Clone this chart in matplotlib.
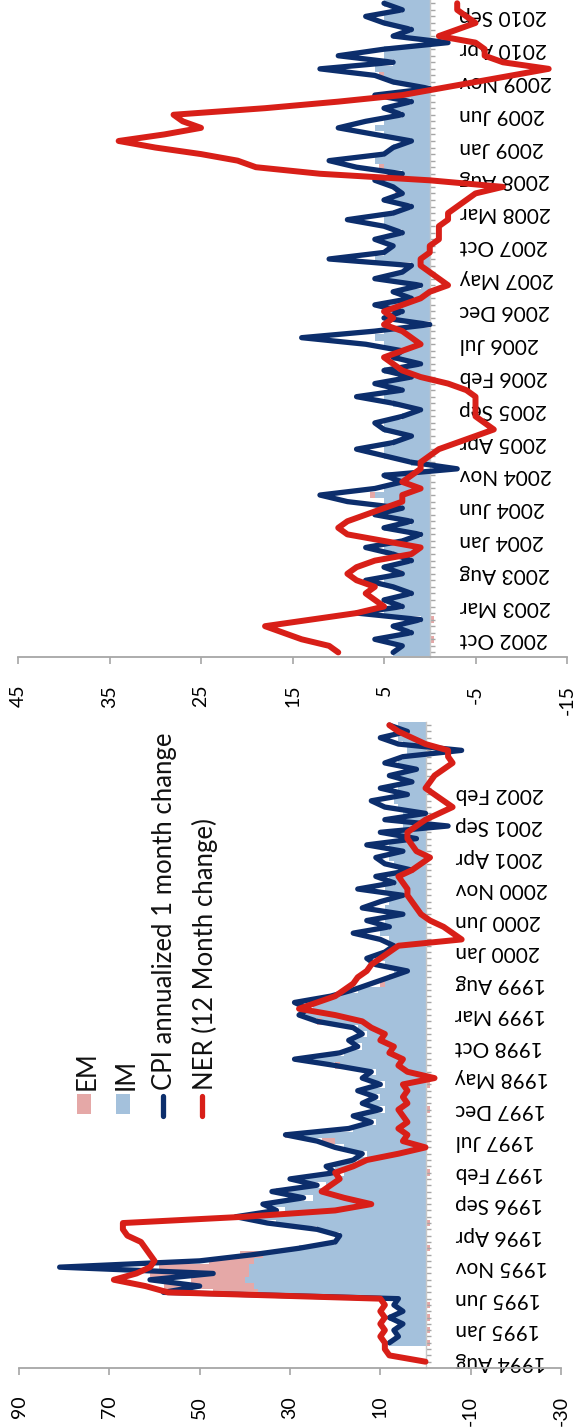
import numpy as np
import matplotlib.pyplot as plt
from matplotlib.patches import Rectangle
from matplotlib.lines import Line2D

plt.rcParams['font.family'] = ['Lato', 'DejaVu Sans']

# colours
im_color = '#a4c1dc'
em_color = '#e5a8a7'
cpi_color = '#0c2e6c'
ner_color = '#d81f18'
axis_color = '#a6a6a6'

month_abbr = ['Jan', 'Feb', 'Mar', 'Apr', 'May', 'Jun',
              'Jul', 'Aug', 'Sep', 'Oct', 'Nov', 'Dec']

# ---- panel 1: 1994 Aug .. 2003 Jan (monthly) ----
start_1 = (1994, 8)
cpi_1 = [np.nan, np.nan, np.nan, 8, 6, 7, 5, 8, 5, 7,
         6, 58, 50, 61, 47, 81, 50, 38, 28, 20,
         19, 24, 35, 42, 33, 36, 27, 34, 24, 30,
         20, 22, 16, 14, 20, 24, 31, 17, 12, 16,
         10, 14, 11, 15, 10, 14, 12, 20, 29, 19,
         15, 17, 14, 16, 24, 28, 26, 29, 21, 16,
         12, 8, 4, 11, 13, 9, 7, 10, 16, 8,
         13, 5, 14, 10, 5, 15, 7, 11, 3, 9,
         11, 5, 13, 2, 10, -5, 9, 0, 9, 12,
         4, 10, 3, 8, 2, 9, 5, -8, 6, 10,
         4, 8]
ner_1 = [0, 8, 9, 9, 10, 9, 10, 9, 10, 9,
         10, 57, 62, 69, 64, 61, 60, 61, 62, 63,
         66, 67, 67, 40, 20, 12, 18, 23, 21, 19,
         20, 16, 13, 6, 0, 5, 4, 6, 4, 5,
         6, 4, 5, 4, 5, -2, 4, 6, 5, 8,
         7, 10, 9, 12, 14, 20, 28, 24, 20, 18,
         16, 15, 13, 12, 10, 8, 6, -8, -6, -4,
         -1, 1, 2, 3, 4, 4, 5, 6, 3, 1,
         -1, 2, 3, 4, 4, 2, 0, -3, -6, -4,
         -2, 0, -1, -2, -4, -6, -5, -5, 0, 3,
         6, 8]
im_1 = [0, 0, 0, 8, 6, 7, 5, 8, 5, 7,
        6, 37, 38, 40, 39, 39, 38, 36, 28, 20,
        19, 24, 33, 40, 31, 34, 25, 30, 22, 27,
        18, 20, 15, 13, 18, 20, 29, 16, 11, 15,
        9, 13, 10, 14, 9, 13, 11, 19, 28, 18,
        14, 16, 13, 15, 23, 27, 25, 28, 20, 15,
        9, 8, 7, 9, 10, 9, 8, 8, 10, 8,
        9, 7, 9, 8, 7, 9, 7, 8, 6, 7,
        8, 6, 8, 5, 7, 5, 6, 5, 6, 7,
        5, 6, 5, 6, 4, 6, 5, 4, 5, 6,
        5, 6]
em_1 = [0, 0, 0, -1, 0, -1, 0, -1, 0, -1,
        0, 10, 20, 12, 22, 20, 10, 5, -1, 0,
        0, 0, -1, 2, 0, 0, 0, 3, 0, 0,
        -1, 0, 0, 0, 0, 3, 2, 0, 0, 0,
        -1, 0, 0, 0, -1, 0, 0, 1, 0, 0,
        0, 0, 0, 0, 1, 0, 0, 0, 0, 0,
        1, 0, 0, 0, 0, 0, 0, 0, 0, 0,
        0, 0, 0, 0, 0, 0, 0, 0, 0, 0,
        0, 0, 0, 0, 0, 0, 0, 0, 0, 0,
        0, 0, 0, 0, 0, 0, 0, 0, 0, 0,
        0, 0]
ticks_1 = [90, 70, 50, 30, 10, -10, -30]

# ---- panel 2: 2002 Aug .. 2010 Nov (monthly) ----
start_2 = (2002, 8)
cpi_2 = [4, 3, 6, 2, 4, 1, 8, 3, 5, 2,
         4, 7, 3, 5, 2, 4, 7, 3, 1, 5,
         2, 6, 3, 9, 12, 6, 3, 5, -3, 2,
         5, 8, 4, 2, 5, 6, 3, 1, 4, 8,
         3, 6, 2, 5, 1, 4, 3, 7, 14, 6,
         0, 5, 3, 6, 2, 4, 1, 6, 3, 2,
         11, 5, 4, 6, 3, 5, 9, 4, 2, 5,
         3, 4, 6, 3, 8, 11, 5, 4, 2, 6,
         10, 7, 3, 5, 2, 6, 0, 4, 6, 12,
         4, 10, 5, -2, 4, 2, 5, 7, 3, 5]
ner_2 = [10, 11, 14, 16, 18, 13, 8, 5, 6, 7,
         6, 8, 9, 8, 6, 2, 1, 5, 9, 10,
         9, 7, 5, 3, 3, 1, 3, 2, 1, 1,
         0, -1, -3, -5, -7, -6, -5, -5, -5, -5,
         -4, -2, 1, 3, 4, 5, 3, 1, 2, 3,
         5, 4, 5, 3, 1, 0, -2, -1, 0, 1,
         1, 0, 0, -1, -1, -1, -2, -2, -3, -4,
         -5, -8, 0, 12, 19, 21, 25, 30, 34, 29,
         25, 27, 28, 18, 10, 3, -1, -5, -9, -13,
         -8, -6, -6, -5, -1, -3, -5, -4, -3, -3]
im_2 = [4, 3, 5, 2, 4, 1, 5, 3, 5, 2,
        4, 5, 3, 5, 2, 4, 5, 3, 1, 5,
        2, 5, 3, 5, 6, 5, 3, 5, 0, 2,
        5, 5, 4, 2, 5, 5, 3, 1, 4, 5,
        3, 5, 2, 5, 1, 4, 3, 5, 6, 5,
        0, 5, 3, 5, 2, 4, 1, 5, 3, 2,
        6, 5, 4, 5, 3, 5, 5, 4, 2, 5,
        3, 4, 5, 3, 5, 6, 5, 4, 2, 5,
        6, 5, 3, 5, 2, 5, 0, 4, 5, 6,
        4, 5, 5, 0, 4, 2, 5, 5, 3, 5]
em_2 = [0, 0, -0.5, 0, 0, -0.5, 0, 0, 0, 0,
        0, 0, 0.5, 0, 0, 0, 0, 0, 0, 0,
        0, 0, 0, 0, 0.5, 0, 0, 0, 0, 0,
        0, 0, 0, 0, 0, 0, 0, 0, 0, 0,
        0, 0, 0, 0, 0, 0, 0, 0, 0, 0,
        0, 0, 0, 0, 0, 0, 0, 0.5, 0, 0,
        0, 0, 0, 0, 0, 0, 0, 0, 0, 0,
        0.8, 0, 0, 0, 0.5, 0, 0, 0, 0, 0,
        0, 0, 0, 0, 0, 0, 0, 0, 0.5, 0,
        0, 0, 0, 0, 0, 0, 0, 0, 0, 0]
ticks_2 = [45, 35, 25, 15, 5, -5, -15]


def month_labels(start, n):
    year, month = start
    out = []
    for i in range(n):
        m = month - 1 + i
        out.append(f"{year + m // 12} {month_abbr[m % 12]}")
    return out


def draw_panel(ax, labels, im, em, cpi, ner, ticks, label_idx, y_low):
    pos = np.arange(len(labels))
    im = np.array(im, dtype=float)
    em = np.array(em, dtype=float)

    ax.barh(pos, im, height=1.0, color=im_color, linewidth=0, zorder=1)
    em_left = np.where(em > 0, im, 0)
    ax.barh(pos, em, left=em_left, height=1.0, color=em_color, linewidth=0, zorder=1)
    ax.plot(cpi, pos, color=cpi_color, lw=3.8, solid_joinstyle='round',
            solid_capstyle='round', zorder=3)
    ax.plot(ner, pos, color=ner_color, lw=4.3, solid_joinstyle='round',
            solid_capstyle='round', zorder=4)

    ax.set_xlim(ticks[0], ticks[-1])
    ax.set_ylim(y_low, len(labels) - 0.5)
    ax.set_xticks(ticks)
    ax.set_xticklabels([str(t) for t in ticks])
    ax.tick_params(axis='x', labelrotation=90, length=5, width=1.2,
                   color=axis_color, pad=15, labelsize=14)

    for s in ['top', 'left']:
        ax.spines[s].set_visible(False)
    ax.spines['bottom'].set_color(axis_color)
    ax.spines['bottom'].set_linewidth(1.3)
    ax.spines['right'].set_position(('data', 0))
    ax.spines['right'].set_color('#c8c8c8')
    ax.spines['right'].set_linewidth(1.0)
    ax.spines['right'].set_zorder(2)

    ax.yaxis.set_ticks_position('right')
    ax.set_yticks(pos, minor=True)
    ax.set_yticks(pos[label_idx])
    ax.set_yticklabels([labels[i] for i in label_idx])
    ax.tick_params(axis='y', which='both', length=3.5, width=1.0,
                   color=axis_color, direction='out')
    ax.tick_params(axis='y', which='major', pad=18, labelsize=15)
    for t in ax.get_yticklabels():
        t.set_rotation(180)
        t.set_va('center')
    ax.set_facecolor('none')


fig = plt.figure(figsize=(5.77, 14.28), dpi=100)
W, H = 577.0, 1428.0

ax_top = fig.add_axes([18 / W, 1 - 657 / H, 549 / W, 657 / H])
ax_bot = fig.add_axes([19 / W, 1 - 1368 / H, 542 / W, (1368 - 722) / H])

labels_2 = month_labels(start_2, len(cpi_2))
labels_1 = month_labels(start_1, len(cpi_1))

# category labels every 5 months (2002 Oct .. 2010 Sep, 1994 Aug .. 2002 Feb)
draw_panel(ax_top, labels_2, im_2, em_2, cpi_2, ner_2, ticks_2,
           list(range(2, 98, 5)), -0.7)
draw_panel(ax_bot, labels_1, im_1, em_1, cpi_1, ner_1, ticks_1,
           list(range(0, 91, 5)), -1.0)


# rotated legend, drawn by hand in pixel positions of the figure
def fx(x):
    return x / W


def fy(y):
    return 1 - y / H


legend_items = [
    ('patch', em_color, 'EM', 84, 87),
    ('patch', im_color, 'IM', 123, 126),
    ('line', cpi_color, 'CPI annualized 1 month change', 163, 165),
    ('line', ner_color, 'NER (12 Month change)', 202, 205),
]
for kind, color, text, mx, tx in legend_items:
    if kind == 'patch':
        fig.add_artist(Rectangle((fx(mx - 7), fy(1114)), 14 / W, 20 / H,
                                 transform=fig.transFigure, color=color, lw=0))
    else:
        fig.add_artist(Line2D([fx(mx), fx(mx)], [fy(1116), fy(1096)],
                              transform=fig.transFigure, color=color, lw=3.8,
                              solid_capstyle='round'))
    fig.text(fx(tx), fy(1090), text, rotation=90, ha='center', va='bottom',
             fontsize=18.5, color='#111111')

fig.savefig('out.png', dpi=100)
